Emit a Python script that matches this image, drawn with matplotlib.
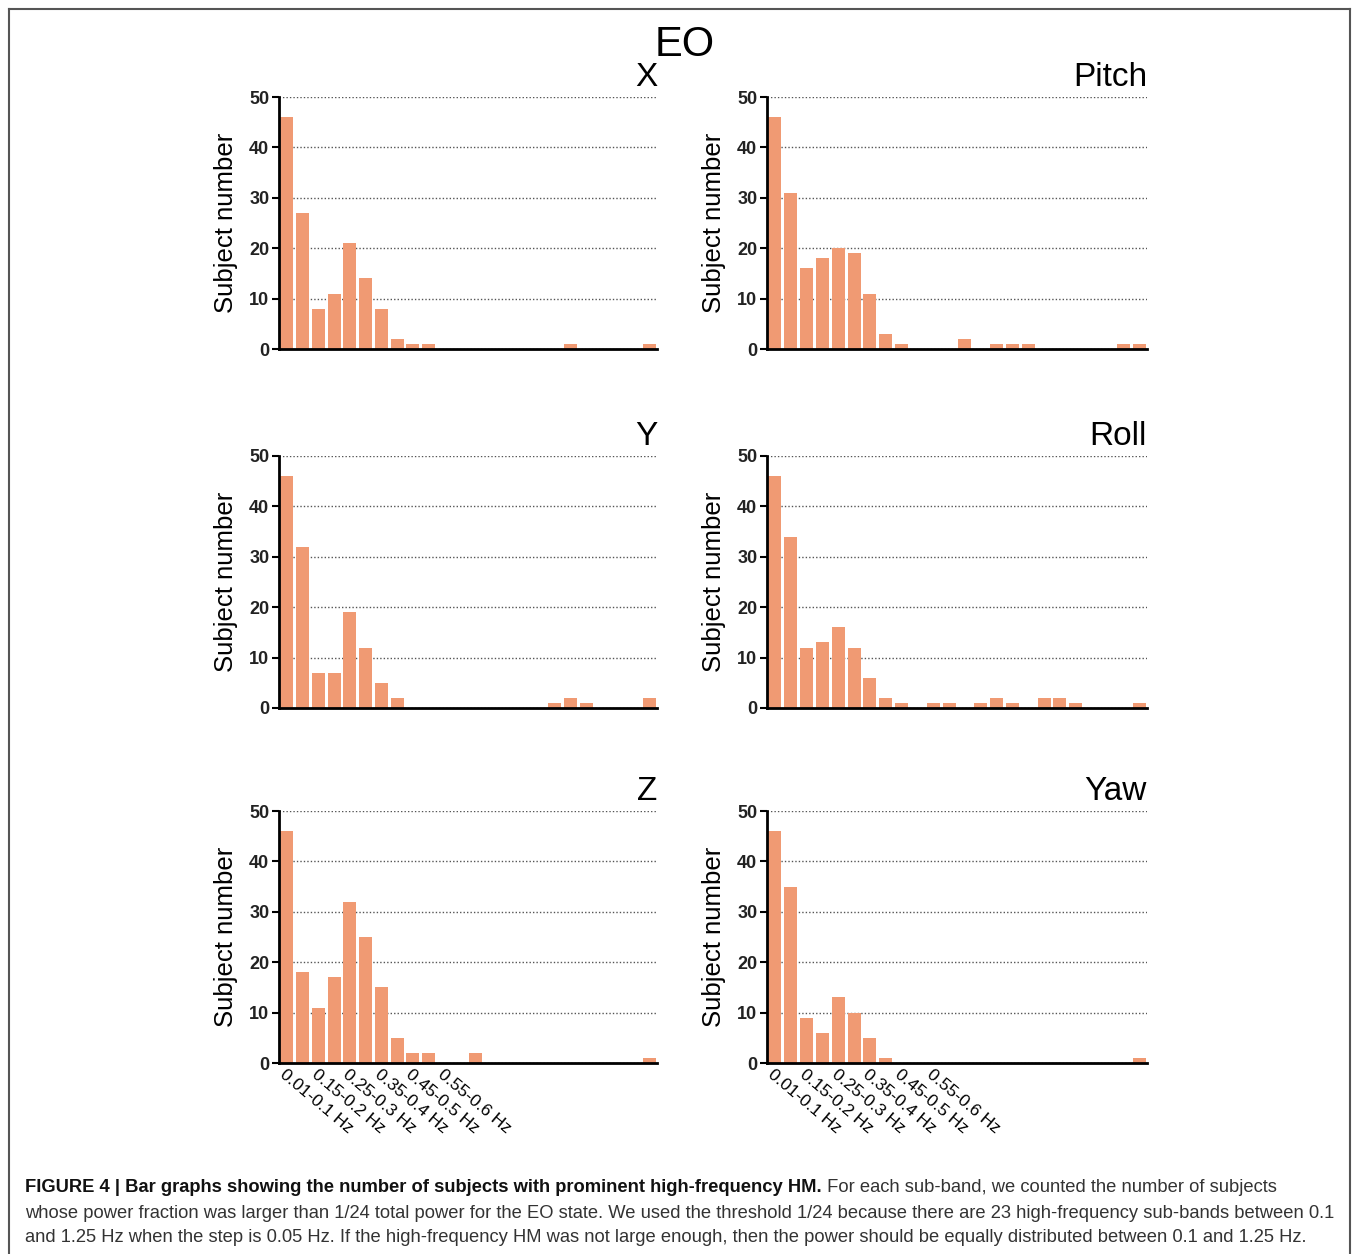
import matplotlib
matplotlib.use("Agg")
import matplotlib.pyplot as plt
from matplotlib.lines import Line2D
import numpy as np

plt.rcParams['font.family'] = ['Liberation Sans', 'DejaVu Sans']

# ---- data ----
n_bands = 24
tick_positions = [0, 2, 4, 6, 8, 10]
tick_labels = ["0.01-0.1 Hz", "0.15-0.2 Hz", "0.25-0.3 Hz",
               "0.35-0.4 Hz", "0.45-0.5 Hz", "0.55-0.6 Hz"]

x_vals = [46, 27, 8, 11, 21, 14, 8, 2, 1, 1, 0, 0, 0, 0, 0, 0, 0, 0, 1, 0, 0, 0, 0, 1]
pitch_vals = [46, 31, 16, 18, 20, 19, 11, 3, 1, 0, 0, 0, 2, 0, 1, 1, 1, 0, 0, 0, 0, 0, 1, 1]
y_vals = [46, 32, 7, 7, 19, 12, 5, 2, 0, 0, 0, 0, 0, 0, 0, 0, 0, 1, 2, 1, 0, 0, 0, 2]
roll_vals = [46, 34, 12, 13, 16, 12, 6, 2, 1, 0, 1, 1, 0, 1, 2, 1, 0, 2, 2, 1, 0, 0, 0, 1]
z_vals = [46, 18, 11, 17, 32, 25, 15, 5, 2, 2, 0, 0, 2, 0, 0, 0, 0, 0, 0, 0, 0, 0, 0, 1]
yaw_vals = [46, 35, 9, 6, 13, 10, 5, 1, 0, 0, 0, 0, 0, 0, 0, 0, 0, 0, 0, 0, 0, 0, 0, 1]

panel_titles = ["X", "Pitch", "Y", "Roll", "Z", "Yaw"]
panel_values = [x_vals, pitch_vals, y_vals, roll_vals, z_vals, yaw_vals]

W, H = 1358, 1254
fig = plt.figure(figsize=(W / 100, H / 100), dpi=100)

bar_color = "#F09A73"
col_px = [(279, 657), (767, 1147)]
row_px = [(97, 349), (456, 708), (811, 1063)]

for i, (title, vals) in enumerate(zip(panel_titles, panel_values)):
    r, c = divmod(i, 2)
    x0, x1 = col_px[c]
    y0, y1 = row_px[r]
    ax = fig.add_axes([x0 / W, 1 - y1 / H, (x1 - x0) / W, (y1 - y0) / H])
    xs = np.arange(n_bands)
    ax.bar(xs, vals, width=0.82, color=bar_color, zorder=3)
    ax.set_xlim(-0.5, n_bands - 0.5)
    ax.set_ylim(0, 50)
    ax.set_yticks([0, 10, 20, 30, 40, 50])
    ax.yaxis.grid(True, linestyle=(0, (1, 1.5)), color="#555555", linewidth=1.0, zorder=0)
    ax.set_axisbelow(True)
    for s in ["top", "right"]:
        ax.spines[s].set_visible(False)
    for s in ["left", "bottom"]:
        ax.spines[s].set_linewidth(2.0)
        ax.spines[s].set_color("black")
        ax.spines[s].set_zorder(4)
    ax.tick_params(axis="y", direction="out", length=5, width=1.5, pad=2,
                   labelsize=13)
    for lab in ax.get_yticklabels():
        lab.set_fontweight("bold")
        lab.set_color("#222222")
    ax.tick_params(axis="x", length=0)
    if r == 2:
        ax.set_xticks(tick_positions)
        ax.set_xticklabels(tick_labels, rotation=-40, ha="left", va="top",
                           rotation_mode="anchor", fontsize=12.5)
        ax.tick_params(axis="x", pad=3)
    else:
        ax.set_xticks([])
    ax.set_ylabel("Subject number", fontsize=18.5, labelpad=8)
    ax.text(1.0, 1.015, title, transform=ax.transAxes, ha="right", va="bottom",
            fontsize=24)

fig.text(685 / W, 1 - 45 / H, "EO", ha="center", va="center", fontsize=30)

# frame
fx0, fx1, fy = 8.5 / W, 1350 / W, 1 - 8.5 / H
for xd, yd in [([fx0, fx1], [fy, fy]), ([fx0, fx0], [fy, -0.01]), ([fx1, fx1], [fy, -0.01])]:
    fig.add_artist(Line2D(xd, yd, transform=fig.transFigure, color="#555555", linewidth=1.5))

# caption
cap_bold = "FIGURE 4 | Bar graphs showing the number of subjects with prominent high-frequency HM."
cap_rest1 = " For each sub-band, we counted the number of subjects"
cap_line2 = ("whose power fraction was larger than 1/24 total power for the EO state. We used the "
             "threshold 1/24 because there are 23 high-frequency sub-bands between 0.1")
cap_line3 = ("and 1.25 Hz when the step is 0.05 Hz. If the high-frequency HM was not large enough, "
             "then the power should be equally distributed between 0.1 and 1.25 Hz.")
cap_x = 25 / W
cap_fs = 13.2
t_bold = fig.text(cap_x, 1 - 1188 / H, cap_bold, ha="left", va="center",
                  fontsize=cap_fs, fontweight="bold", color="#111111")
fig.canvas.draw()
bb = t_bold.get_window_extent(renderer=fig.canvas.get_renderer())
fig.text(bb.x1 / W, 1 - 1188 / H, cap_rest1, ha="left", va="center",
         fontsize=cap_fs, color="#333333")
fig.text(cap_x, 1 - 1213 / H, cap_line2, ha="left", va="center",
         fontsize=cap_fs, color="#333333")
fig.text(cap_x, 1 - 1238 / H, cap_line3, ha="left", va="center",
         fontsize=cap_fs, color="#333333")

fig.savefig("out.png", dpi=100)
